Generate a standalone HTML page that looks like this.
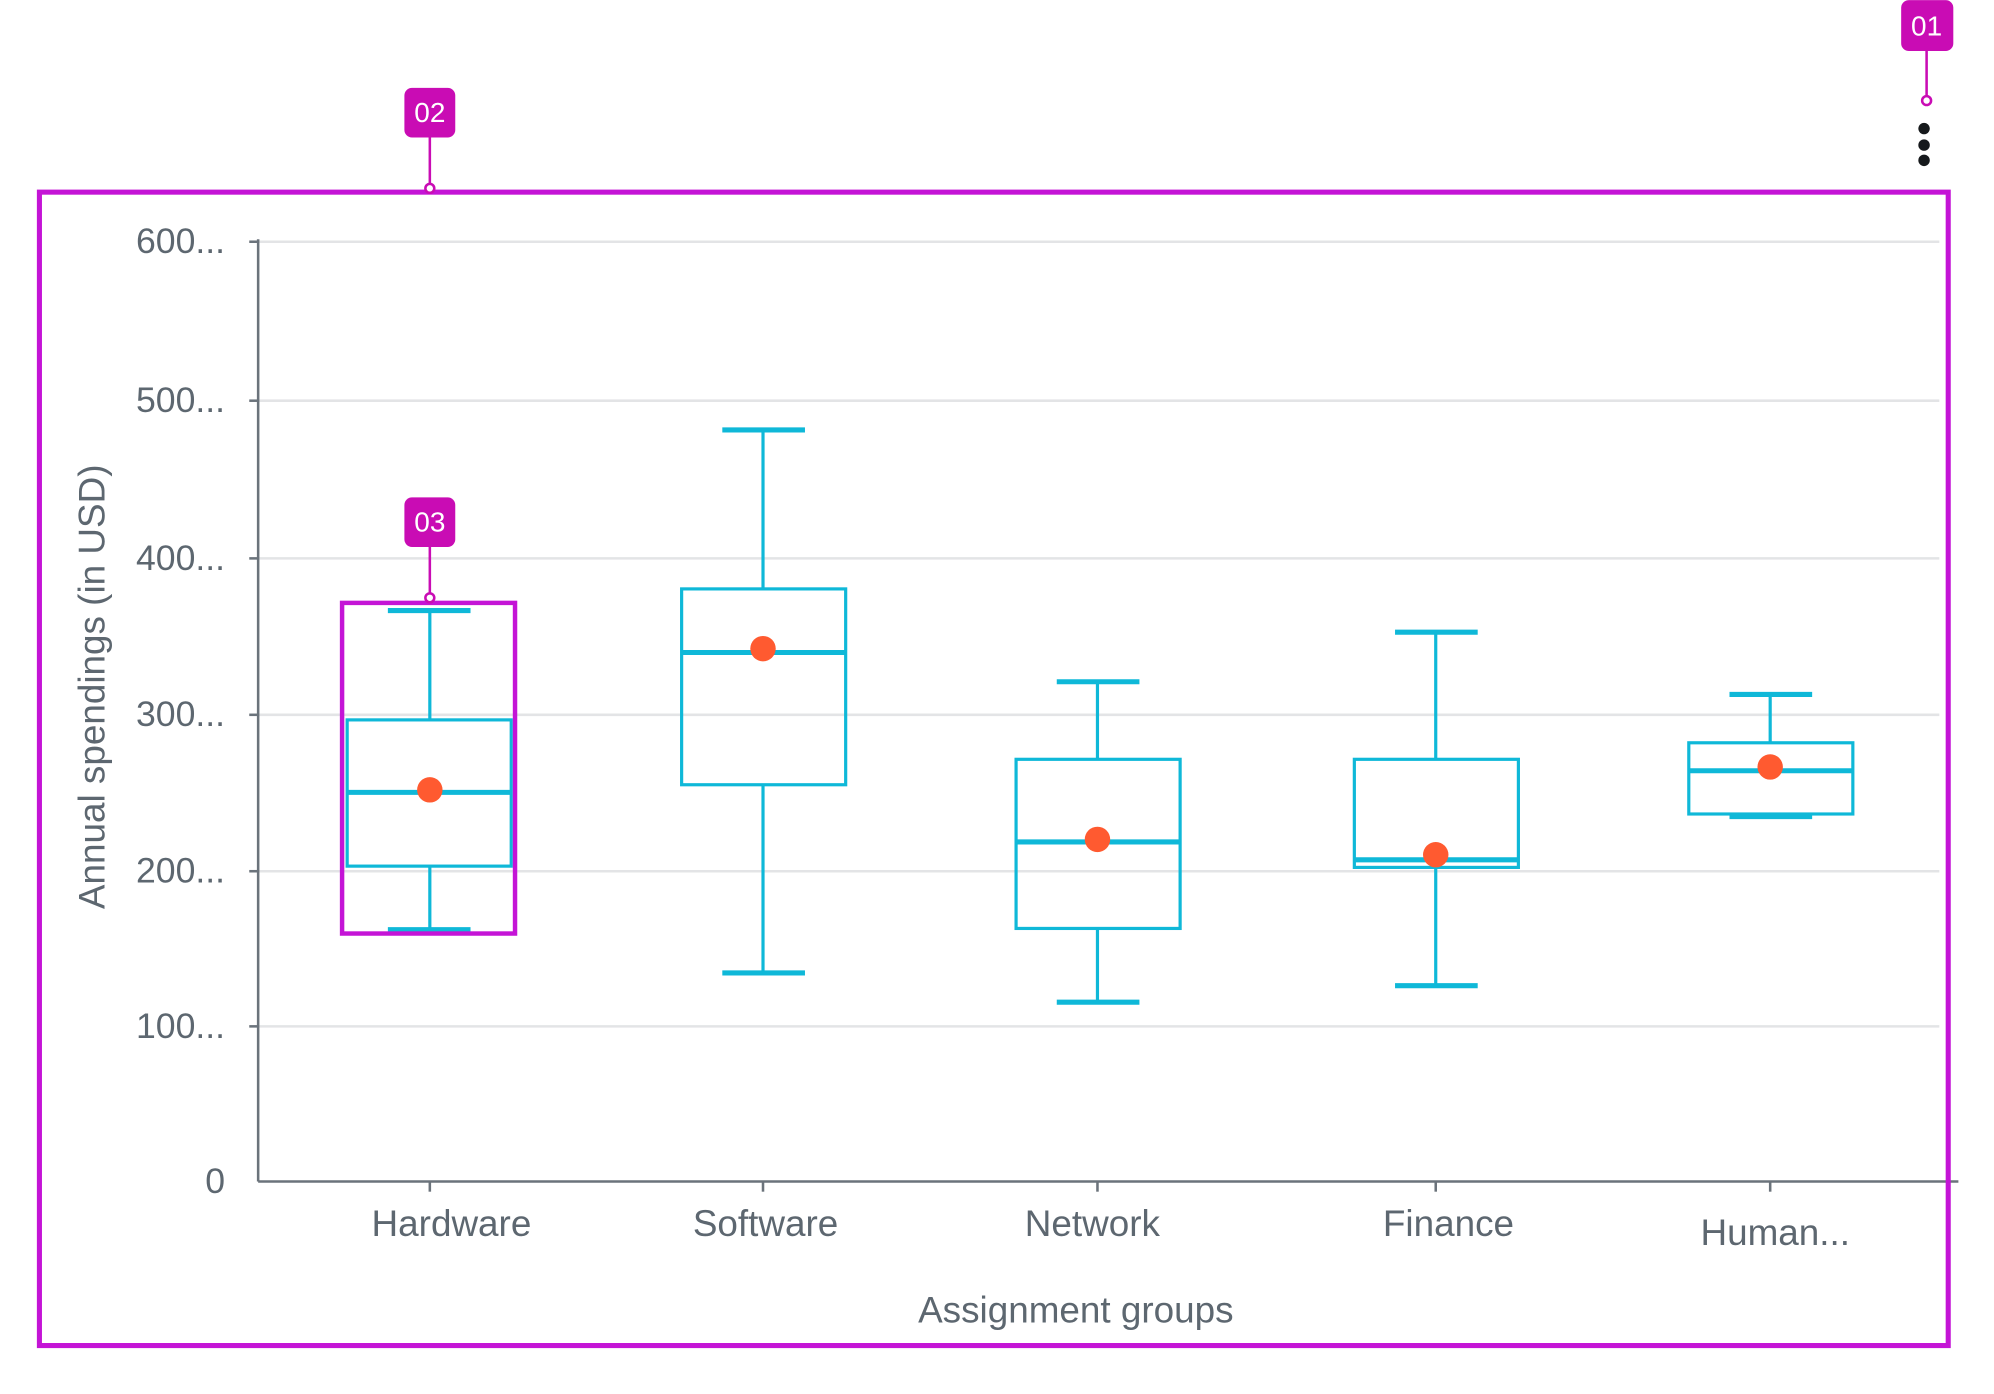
<!DOCTYPE html>
<html><head><style>html,body{margin:0;padding:0;background:#fff}svg{display:block}</style></head>
<body>
<svg width="1994" height="1394" viewBox="0 0 1568 1096" xmlns="http://www.w3.org/2000/svg" font-family="'Liberation Sans', sans-serif">
<rect width="1568" height="1096" fill="#fff"/>
<g stroke="#e3e4e6" stroke-width="2">
<line x1="203" y1="190" x2="1525" y2="190"/>
<line x1="203" y1="315" x2="1525" y2="315"/>
<line x1="203" y1="439" x2="1525" y2="439"/>
<line x1="203" y1="562" x2="1525" y2="562"/>
<line x1="203" y1="685" x2="1525" y2="685"/>
<line x1="203" y1="807" x2="1525" y2="807"/>
</g>
<g stroke="#6b737b" stroke-width="2">
<line x1="203" y1="188" x2="203" y2="929"/>
<line x1="203" y1="929" x2="1540" y2="929"/>
<line x1="196" y1="190" x2="203" y2="190"/><line x1="196" y1="315" x2="203" y2="315"/>
<line x1="196" y1="439" x2="203" y2="439"/><line x1="196" y1="562" x2="203" y2="562"/>
<line x1="196" y1="685" x2="203" y2="685"/><line x1="196" y1="807" x2="203" y2="807"/>
<line x1="338" y1="929" x2="338" y2="937"/><line x1="600" y1="929" x2="600" y2="937"/>
<line x1="863" y1="929" x2="863" y2="937"/><line x1="1129" y1="929" x2="1129" y2="937"/>
<line x1="1392" y1="929" x2="1392" y2="937"/>
</g>
<g fill="#5d6770" font-size="28" text-anchor="end">
<text x="177" y="199">600...</text><text x="177" y="324">500...</text>
<text x="177" y="448">400...</text><text x="177" y="571">300...</text>
<text x="177" y="694">200...</text><text x="177" y="816">100...</text>
<text x="177" y="938">0</text>
</g>
<g fill="#5d6770" font-size="29" text-anchor="middle">
<text x="355" y="972">Hardware</text><text x="602" y="972">Software</text>
<text x="859" y="972">Network</text><text x="1139" y="972">Finance</text>
<text x="1396" y="979">Human...</text>
<text x="846" y="1040">Assignment groups</text>
<text transform="translate(82,540) rotate(-90)">Annual spendings (in USD)</text>
</g>
<g stroke="#0fb8d8" fill="none">
<g><line x1="338" y1="480" x2="338" y2="566" stroke-width="2.5"/><line x1="338" y1="681" x2="338" y2="731" stroke-width="2.5"/>
<line x1="305" y1="480" x2="370" y2="480" stroke-width="4"/><line x1="305" y1="731" x2="370" y2="731" stroke-width="4"/>
<rect x="273" y="566" width="129" height="115" stroke-width="2.5"/><line x1="273" y1="623" x2="402" y2="623" stroke-width="4"/></g>
<g><line x1="600" y1="338" x2="600" y2="463" stroke-width="2.5"/><line x1="600" y1="617" x2="600" y2="765" stroke-width="2.5"/>
<line x1="568" y1="338" x2="633" y2="338" stroke-width="4"/><line x1="568" y1="765" x2="633" y2="765" stroke-width="4"/>
<rect x="536" y="463" width="129" height="154" stroke-width="2.5"/><line x1="536" y1="513" x2="665" y2="513" stroke-width="4"/></g>
<g><line x1="863" y1="536" x2="863" y2="597" stroke-width="2.5"/><line x1="863" y1="730" x2="863" y2="788" stroke-width="2.5"/>
<line x1="831" y1="536" x2="896" y2="536" stroke-width="4"/><line x1="831" y1="788" x2="896" y2="788" stroke-width="4"/>
<rect x="799" y="597" width="129" height="133" stroke-width="2.5"/><line x1="799" y1="662" x2="928" y2="662" stroke-width="4"/></g>
<g><line x1="1129" y1="497" x2="1129" y2="597" stroke-width="2.5"/><line x1="1129" y1="682" x2="1129" y2="775" stroke-width="2.5"/>
<line x1="1097" y1="497" x2="1162" y2="497" stroke-width="4"/><line x1="1097" y1="775" x2="1162" y2="775" stroke-width="4"/>
<rect x="1065" y="597" width="129" height="85" stroke-width="2.5"/><line x1="1065" y1="676" x2="1194" y2="676" stroke-width="4"/></g>
<g><line x1="1392" y1="546" x2="1392" y2="584" stroke-width="2.5"/>
<line x1="1360" y1="546" x2="1425" y2="546" stroke-width="4"/><line x1="1360" y1="642" x2="1425" y2="642" stroke-width="4"/>
<rect x="1328" y="584" width="129" height="56" stroke-width="2.5"/><line x1="1328" y1="606" x2="1457" y2="606" stroke-width="4"/></g>
</g>
<g fill="#ff5a30">
<circle cx="338" cy="621" r="10"/><circle cx="600" cy="510" r="10"/><circle cx="863" cy="660" r="10"/>
<circle cx="1129" cy="672" r="10"/><circle cx="1392" cy="603" r="10"/>
</g>
<g stroke="#c414d6" fill="none">
<rect x="31" y="151" width="1501" height="907" stroke-width="4"/>
<rect x="269" y="474" width="136" height="260" stroke-width="3.5"/>
</g>
<g stroke="#c90cb4" stroke-width="2" fill="#fff">
<line x1="338" y1="105" x2="338" y2="144"/><circle cx="338" cy="148" r="3.5"/>
<line x1="338" y1="427" x2="338" y2="466"/><circle cx="338" cy="470" r="3.5"/>
<line x1="1515" y1="38" x2="1515" y2="75"/><circle cx="1515" cy="79" r="3.5"/>
</g>
<g fill="#c90cb4">
<rect x="318" y="69" width="40" height="39" rx="6"/>
<rect x="318" y="391" width="40" height="39" rx="6"/>
<rect x="1495" y="0" width="41" height="40" rx="6"/>
</g>
<g fill="#fff" font-size="22" text-anchor="middle">
<text x="338" y="96">02</text><text x="338" y="418">03</text><text x="1515" y="28">01</text>
</g>
<g fill="#16191c"><circle cx="1513" cy="101" r="4.5"/><circle cx="1513" cy="114" r="4.5"/><circle cx="1513" cy="126" r="4.5"/></g>
</svg>
</body></html>
